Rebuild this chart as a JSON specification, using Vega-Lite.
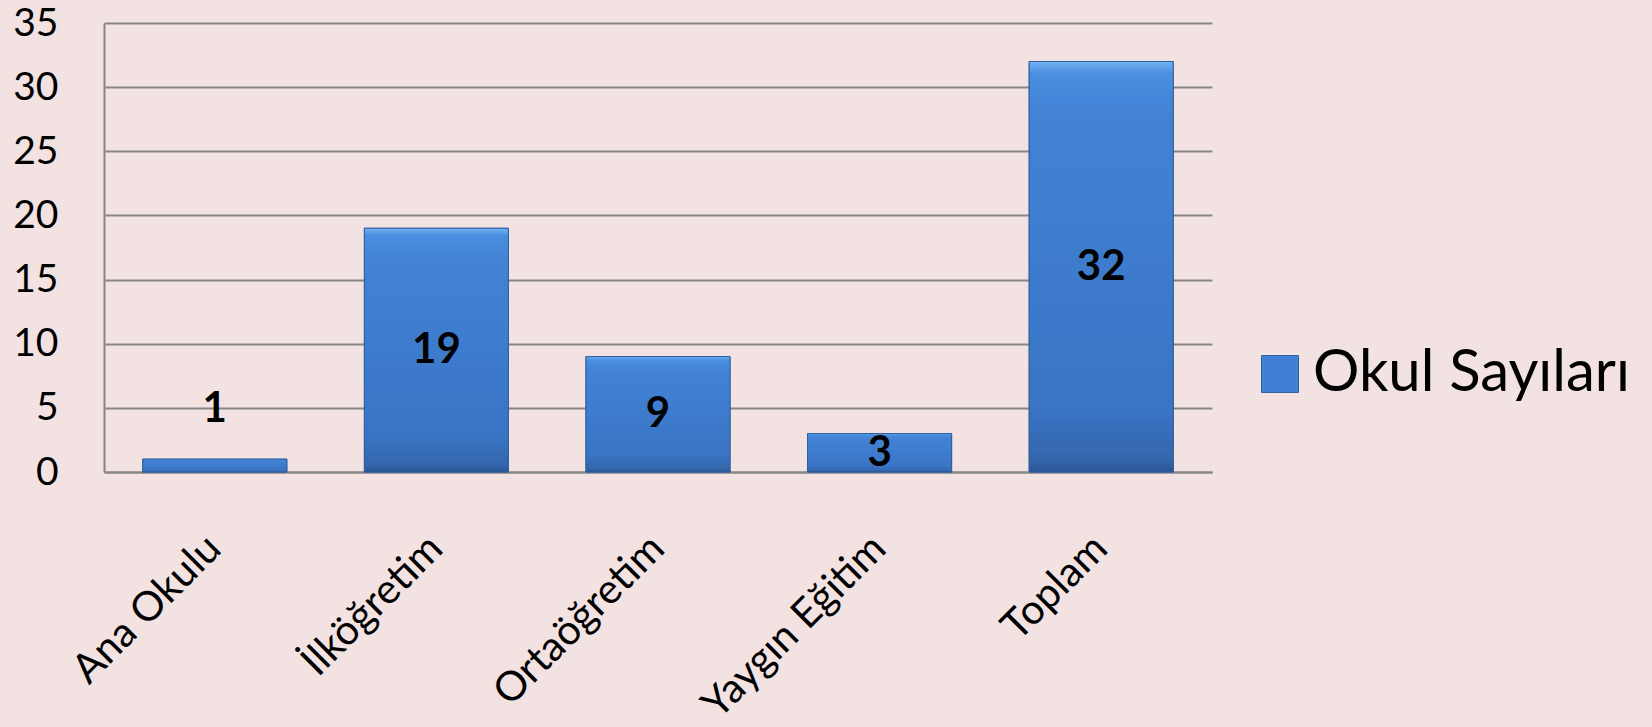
{
  "$schema": "https://vega.github.io/schema/vega-lite/v6.json",
  "width": 1108,
  "height": 449,
  "autosize": {"type": "none"},
  "padding": {"left": 104, "top": 23, "right": 440, "bottom": 255},
  "background": "#f3e2e2",
  "config": {"view": {"stroke": null}, "font": "Lato"},
  "data": {
    "values": [
      {"category": "Ana Okulu", "value": 1, "series": "Okul Sayıları"},
      {"category": "İlköğretim", "value": 19, "series": "Okul Sayıları"},
      {"category": "Ortaöğretim", "value": 9, "series": "Okul Sayıları"},
      {"category": "Yaygın Eğitim", "value": 3, "series": "Okul Sayıları"},
      {"category": "Toplam", "value": 32, "series": "Okul Sayıları"}
    ]
  },
  "encoding": {
    "x": {
      "field": "category",
      "type": "nominal",
      "sort": null,
      "scale": {"paddingInner": 0.35, "paddingOuter": 0.175},
      "axis": {
        "title": null,
        "labelAngle": -45,
        "labelAlign": "right",
        "labelBaseline": "middle",
        "labelFontSize": 41,
        "labelFont": "Lato",
        "labelColor": "#000000",
        "labelPadding": 70,
        "labelOffset": 0,
        "labelLimit": 0,
        "labelOverlap": false,
        "ticks": false,
        "domainColor": "#868686",
        "domainWidth": 2,
        "grid": false
      }
    }
  },
  "layer": [
    {
      "mark": {"type": "bar", "stroke": "#2f5f9f", "strokeWidth": 1},
      "encoding": {
        "y": {
          "field": "value",
          "type": "quantitative",
          "scale": {"domain": [0, 35]},
          "axis": {
            "title": null,
            "values": [0, 5, 10, 15, 20, 25, 30, 35],
            "grid": true,
            "gridColor": "#868686",
            "gridWidth": 2,
            "domain": true,
            "domainColor": "#868686",
            "domainWidth": 2,
            "ticks": false,
            "labelFontSize": 39,
            "labelFont": "Lato",
            "labelColor": "#000000",
            "labelPadding": 46,
            "labelOverlap": false
          }
        },
        "color": {
          "field": "series",
          "type": "nominal",
          "scale": {"range": ["#3f80d4"]},
          "legend": {
            "title": null,
            "orient": "none",
            "legendX": 1147,
            "legendY": 322,
            "symbolType": "square",
            "symbolSize": 1369,
            "symbolStrokeColor": "#2f5f9f",
            "symbolStrokeWidth": 1,
            "symbolOpacity": 1,
            "labelFontSize": 58,
            "labelFont": "Lato",
            "labelColor": "#000000",
            "labelOffset": 4,
            "labelLimit": 0,
            "padding": 0
          }
        }
      }
    },
    {
      "mark": {
        "type": "bar",
        "stroke": "#2f5f9f",
        "strokeWidth": 1,
        "color": {
          "gradient": "linear",
          "x1": 0, "y1": 0, "x2": 0, "y2": 1,
          "stops": [
            {"offset": 0, "color": "#74b2f2"},
            {"offset": 0.03, "color": "#4a8fe0"},
            {"offset": 0.12, "color": "#4283d6"},
            {"offset": 0.85, "color": "#3a74c4"},
            {"offset": 0.97, "color": "#3466ad"},
            {"offset": 1, "color": "#2a5592"}
          ]
        }
      },
      "encoding": {
        "y": {"field": "value", "type": "quantitative"}
      }
    },
    {
      "transform": [
        {"calculate": "datum.value < 2 ? 4.9 : datum.value / 2", "as": "labelPos"}
      ],
      "mark": {
        "type": "text",
        "font": "Lato",
        "fontWeight": "bold",
        "fontSize": 42,
        "baseline": "middle",
        "color": "#000000"
      },
      "encoding": {
        "y": {"field": "labelPos", "type": "quantitative"},
        "text": {"field": "value", "type": "quantitative"}
      }
    }
  ]
}
